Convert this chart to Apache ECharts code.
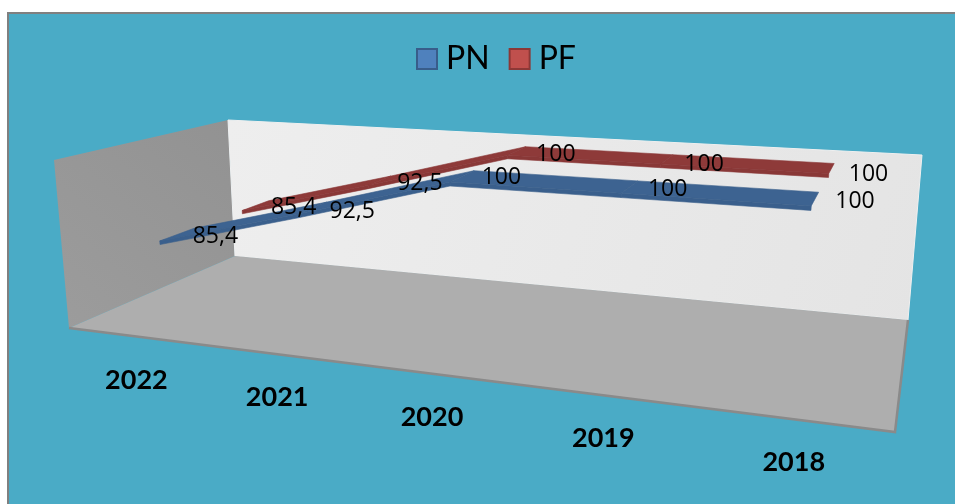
<!DOCTYPE html>
<html>
<head>
<meta charset="utf-8">
<style>html,body{margin:0;padding:0;background:#fff}#chart{width:955px;height:504px}</style>
<script src="https://cdn.jsdelivr.net/npm/echarts@6/dist/echarts.min.js"></script>
</head>
<body>
<div id="chart"></div>
<script>
const years = ['2022', '2021', '2020', '2019', '2018'];
const pnValues = [85.4, 92.5, 100, 100, 100];
const pfValues = [85.4, 92.5, 100, 100, 100];

const W = 955, H = 504;
const VALUE_MIN = 70, VALUE_MAX = 101;

// Box corners on screen: [u, v, w, x, y]; u runs along the categories, v into the depth, w upward.
const boxCorners = [
  [0, 0, 0, 69, 328], [1, 0, 0, 895, 432], [1, 1, 0, 908, 320], [0, 1, 0, 235, 256],
  [0, 0, 1, 54, 160], [0, 1, 1, 228, 120], [1, 1, 1, 922, 155]
];

// Least-squares fit of the perspective transform through the box corners.
function fitProjection(pts) {
  const rows = [];
  pts.forEach(([u, v, w, x, y]) => {
    rows.push([1, u, v, w, 0, 0, 0, 0, -x * u, -x * v, -x * w, x]);
    rows.push([0, 0, 0, 0, 1, u, v, w, -y * u, -y * v, -y * w, y]);
  });
  const n = 11;
  const M = [];
  for (let i = 0; i < n; i++) {
    M.push([]);
    for (let j = 0; j <= n; j++) {
      let s = 0;
      rows.forEach(r => { s += r[i] * r[j]; });
      M[i].push(s);
    }
  }
  for (let c = 0; c < n; c++) {
    let p = c;
    for (let r = c + 1; r < n; r++) if (Math.abs(M[r][c]) > Math.abs(M[p][c])) p = r;
    [M[c], M[p]] = [M[p], M[c]];
    for (let r = 0; r < n; r++) {
      if (r === c) continue;
      const f = M[r][c] / M[c][c];
      for (let k = c; k <= n; k++) M[r][k] -= f * M[c][k];
    }
  }
  return M.map((row, i) => row[n] / row[i]);
}
const P = fitProjection(boxCorners);
function project(u, v, w) {
  const d = P[8] * u + P[9] * v + P[10] * w + 1;
  return [(P[0] + P[1] * u + P[2] * v + P[3] * w) / d, (P[4] + P[5] * u + P[6] * v + P[7] * w) / d];
}

// Height of the ribbon's front lip, as a share of the wall height.
const LIP = 0.022;

// Depth band of each ribbon and where its value labels sit relative to the ribbon.
const bands = {
  PN: { near: 0.165, far: 0.36, fill: '#3d6391', lip: '#3a5f8c', labelDx: [38, 40, 39, 38, 40], labelDy: [2, 3, 1, 3, 3] },
  PF: { near: 0.665, far: 0.85, fill: '#8e3a39', lip: '#893837', labelDx: [38, 40, 39, 37, 37], labelDy: [2, 3, 4, 5, 6] }
};

function ribbonSeries(name, values) {
  const band = bands[name];
  return {
    name, type: 'custom', coordinateSystem: 'cartesian2d', z: 3,
    itemStyle: { color: name === 'PN' ? '#4f81bd' : '#c0504d', borderColor: name === 'PN' ? '#385d8a' : '#8c3836', borderWidth: 2 },
    data: values.map((v, i) => [i, v]),
    encode: { x: 0, y: 1 },
    renderItem(params, api) {
      const i = params.dataIndex;
      const toBox = (idx, val) => {
        const c = api.coord([idx, val]);
        return [c[0] / W, 1 - c[1] / H];
      };
      const a = toBox(i, values[i]);
      const mid = project(a[0], (band.near + band.far) / 2, a[1]);
      const children = [{
        type: 'text', z2: 100,
        style: {
          text: String(values[i]).replace('.', ','), x: mid[0] + band.labelDx[i], y: mid[1] + band.labelDy[i],
          font: '23px "Open Sans"', fill: '#000', align: 'center', verticalAlign: 'middle'
        }
      }];
      if (i < values.length - 1) {
        const b = toBox(i + 1, values[i + 1]);
        children.unshift({
          type: 'polygon',
          shape: { points: [
            project(a[0], band.near, a[1]), project(b[0], band.near, b[1]),
            project(b[0], band.near, b[1] - LIP), project(a[0], band.near, a[1] - LIP)
          ] },
          style: { fill: band.lip, stroke: band.lip, lineWidth: 0.6 }
        }, {
          type: 'polygon',
          shape: { points: [
            project(a[0], band.near, a[1]), project(b[0], band.near, b[1]),
            project(b[0], band.far, b[1]), project(a[0], band.far, a[1])
          ] },
          style: { fill: band.fill, stroke: band.lip, lineWidth: 0.6 }
        });
      }
      return { type: 'group', children };
    }
  };
}

// Year names along the front edge of the floor.
const yearSeries = {
  type: 'custom', coordinateSystem: 'cartesian2d', z: 3, silent: true,
  data: years.map((y, i) => [i, VALUE_MIN]),
  encode: { x: 0, y: 1 },
  renderItem(params, api) {
    const c = api.coord([params.dataIndex, VALUE_MIN]);
    const q = project(c[0] / W, 0, 0);
    return {
      type: 'text',
      style: {
        text: years[params.dataIndex], x: q[0] + 2, y: q[1] + 44,
        font: 'bold 27px Lato', fill: '#000', align: 'center', verticalAlign: 'middle'
      }
    };
  }
};

const grad = (x, y, x2, y2, from, to) => new echarts.graphic.LinearGradient(x, y, x2, y2, [
  { offset: 0, color: from }, { offset: 1, color: to }
]);

const chart = echarts.init(document.getElementById('chart'), null, { renderer: 'canvas' });
chart.setOption({
  animation: false,
  backgroundColor: '#fff',
  grid: { left: 0, right: 0, top: 0, bottom: 0 },
  xAxis: { type: 'category', data: years, show: false },
  yAxis: { type: 'value', min: VALUE_MIN, max: VALUE_MAX, show: false },
  legend: {
    data: ['PN', 'PF'], left: 416, top: 43, padding: 0, icon: 'rect', itemWidth: 20, itemHeight: 20, itemGap: 19,
    textStyle: { fontFamily: 'Lato', fontSize: 32, color: '#000', padding: [0, 0, 0, 4] }
  },
  graphic: { elements: [
    { type: 'rect', z: -10, shape: { x: 8, y: 13, width: 960, height: 500 },
      style: { fill: '#4aabc6', stroke: '#808080', lineWidth: 2 } },
    { type: 'polygon', z: -9, shape: { points: [[54, 160], [228, 120], [235, 256], [69, 328]] },
      style: { fill: grad(1, 0, 0, 1, '#929292', '#9c9c9c') } },
    { type: 'polygon', z: -9, shape: { points: [[228, 120], [922, 155], [908, 320], [235, 256]] },
      style: { fill: grad(0, 0, 1, 1, '#eeeeee', '#e4e4e4'), stroke: '#f0f0f0', lineWidth: 1 } },
    { type: 'polygon', z: -8, shape: { points: [[69, 328], [235, 256], [908, 320], [895, 432]] },
      style: { fill: '#aeaeae' } },
    { type: 'polyline', z: -7, shape: { points: [[69, 328], [895, 432], [908, 320]] },
      style: { fill: null, stroke: '#8a8a8a', lineWidth: 2.5 } }
  ] },
  series: [ribbonSeries('PN', pnValues), ribbonSeries('PF', pfValues), yearSeries]
});
</script>
</body>
</html>
